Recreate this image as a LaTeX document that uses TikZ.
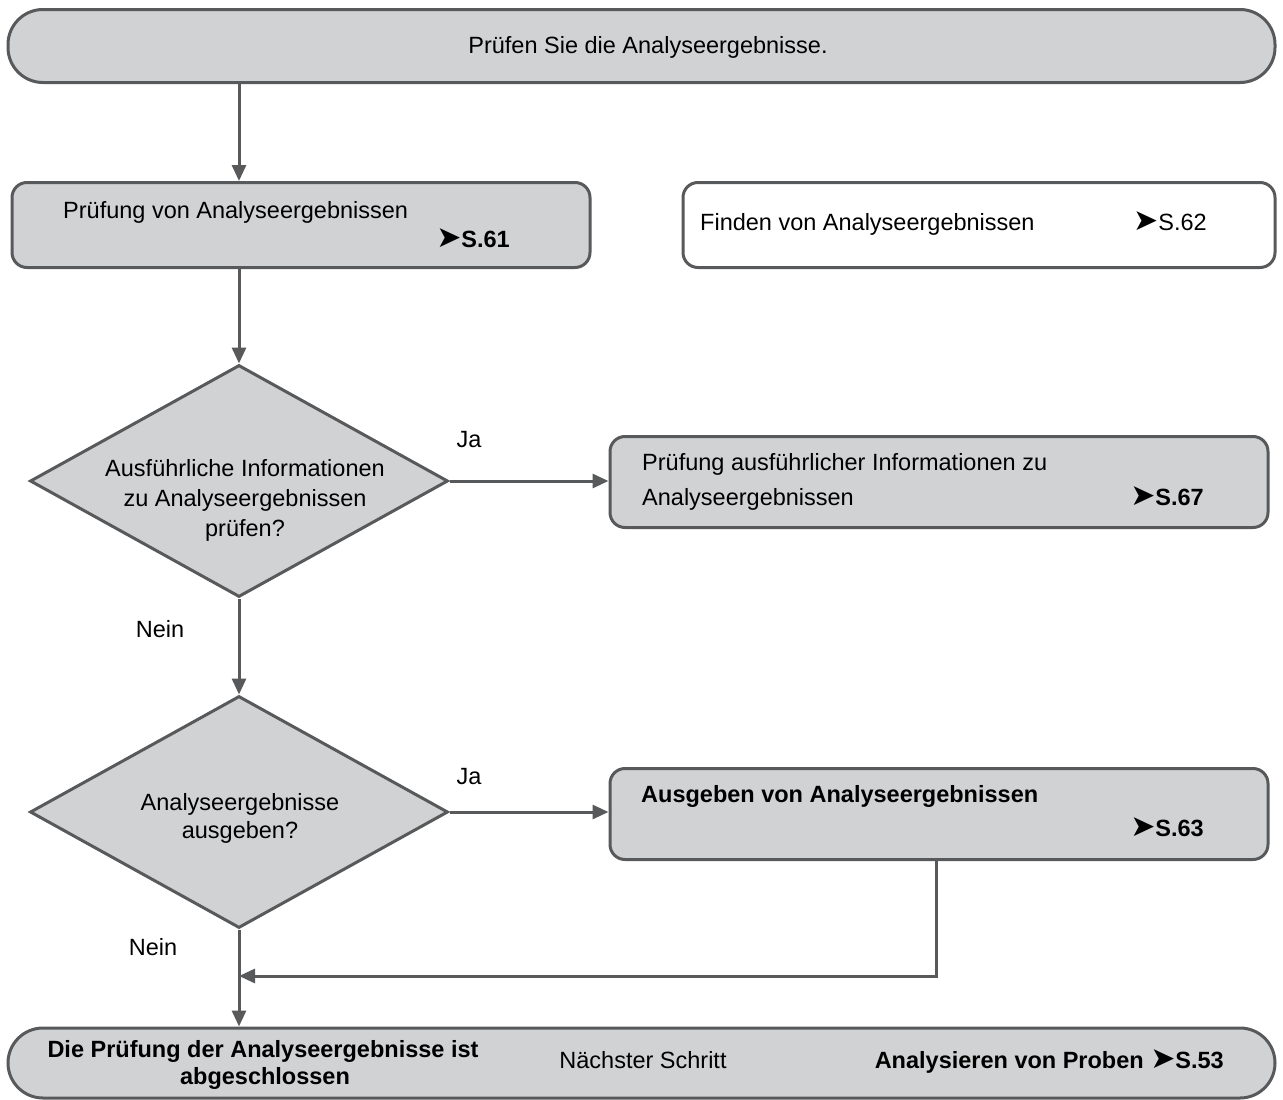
\documentclass[tikz,border=0pt]{standalone}
\usepackage{fontspec}
\setmainfont{Liberation Sans}
\newfontfamily\arrowfont{DejaVu Sans}
\usepackage{tikz}
\usetikzlibrary{arrows.meta, positioning, shapes.geometric}
\definecolor{boxgray}{HTML}{D1D2D4}
\definecolor{linegray}{HTML}{58595B}
\newcommand{\seeref}[1]{{\arrowfont\fontsize{30}{30}\selectfont ➤}#1}
\tikzset{
    every picture/.style={/utils/exec={\fontsize{23.5}{30}\selectfont}},
    box/.style={draw=linegray, line width=3pt, fill=boxgray, rounded corners=15pt, inner sep=0pt},
    bar/.style={box, rounded corners=35pt, minimum width=1267pt},
    decision/.style={diamond, draw=linegray, line width=3pt, fill=boxgray, inner sep=0pt, minimum width=418pt, minimum height=232pt},
    arr/.style={-{Triangle[length=16pt, width=14pt]}, draw=linegray, line width=3pt},
    txt/.style={inner sep=0pt}
}

\begin{document}
\begin{tikzpicture}[x=1pt, y=-1pt]
        \useasboundingbox (0,0) rectangle (1283,1100);

        % Nodes
        \node[bar, minimum height=73pt] (0) at (641.5, 46) {};
        \node[box, minimum width=578pt, minimum height=85pt] (1) at (301, 225) {};
        \node[box, fill=white, minimum width=592pt, minimum height=85pt] (2) at (979, 225) {};
        \node[decision] (d1) at (239, 481) {};
        \node[box, minimum width=658pt, minimum height=91pt] (3) at (939, 482) {};
        \node[decision] (d2) at (239, 812) {};
        \node[box, minimum width=658pt, minimum height=91pt] (4) at (939, 814) {};
        \node[bar, minimum height=70pt] (5) at (641.5, 1063) {};

        % Texts
        \node[txt, anchor=base] (t0) at (648, 53) {Prüfen Sie die Analyseergebnisse.};
        \node[txt, anchor=base west] (t1) at (63, 218) {Prüfung von Analyseergebnissen};
        \node[txt, anchor=base east] (r1) at (510, 247) {\bfseries\seeref{S.61}};
        \node[txt, anchor=base west] (t2) at (700, 230) {Finden von Analyseergebnissen};
        \node[txt, anchor=base east] (r2) at (1207, 230) {\seeref{S.62}};
        \node[txt, align=center] (td1) at (245, 500) {Ausführliche Informationen\\zu Analyseergebnissen\\prüfen?};
        \node[txt, anchor=base west] (t3) at (642, 470) {Prüfung ausführlicher Informationen zu};
        \node[txt, anchor=base west] (t3b) at (642, 505) {Analyseergebnissen};
        \node[txt, anchor=base east] (r3) at (1204, 505) {\bfseries\seeref{S.67}};
        \node[txt, align=center, font={\baselineskip=28pt}] (td2) at (240, 818) {Analyseergebnisse\\ausgeben?};
        \node[txt, anchor=base west] (t4) at (641, 802) {\bfseries Ausgeben von Analyseergebnissen};
        \node[txt, anchor=base east] (r4) at (1204, 836) {\bfseries\seeref{S.63}};
        \node[txt, anchor=base] (t5) at (263, 1057) {\bfseries Die Prüfung der Analyseergebnisse ist};
        \node[txt, anchor=base] (t5b) at (265, 1084) {\bfseries abgeschlossen};
        \node[txt, anchor=base] (t6) at (643, 1068) {Nächster Schritt};
        \node[txt, anchor=base east] (t7) at (1224, 1068) {\bfseries Analysieren von Proben \seeref{S.53}};

        % Branch labels
        \node[txt, anchor=base] (ja1) at (469, 447) {Ja};
        \node[txt, anchor=base] (nein1) at (160, 637) {Nein};
        \node[txt, anchor=base] (ja2) at (469, 784) {Ja};
        \node[txt, anchor=base] (nein2) at (153, 955) {Nein};

        % Directed edges
        \coordinate (merge) at (239, 976);
        \draw[arr] (0.south -| d1) -- (1.north -| d1);
        \draw[arr] (1.south -| d1) -- (d1.north);
        \draw[arr] (d1.east) -- (d1.east -| 3.west);
        \draw[arr] (d1.south) -- (d2.north);
        \draw[arr] (d2.east) -- (d2.east -| 4.west);
        \draw[arr] (d2.south) -- (d2 |- 5.north);
        \draw[arr] ([xshift=-3pt]4.south) |- (merge);
    \end{tikzpicture}
\end{document}
